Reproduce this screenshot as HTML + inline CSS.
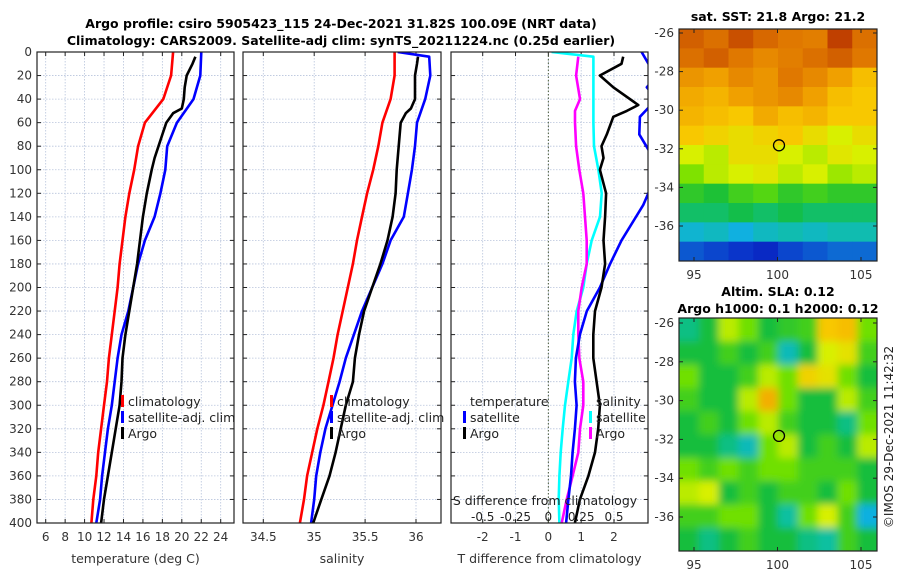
<!DOCTYPE html>
<html><head><meta charset="utf-8"><style>
html,body{margin:0;padding:0;background:#fff;}
svg{display:block;font-family:"DejaVu Sans","Liberation Sans",sans-serif;}
</style></head><body>
<svg id="fig" width="900" height="580" viewBox="0 0 900 580" xmlns="http://www.w3.org/2000/svg">
<text x="341" y="28" font-size="12.5" font-weight="bold" text-anchor="middle" fill="#000">Argo profile: csiro 5905423_115 24-Dec-2021 31.82S 100.09E (NRT data)</text>
<text x="341" y="45" font-size="12.5" font-weight="bold" text-anchor="middle" fill="#000">Climatology: CARS2009. Satellite-adj clim: synTS_20211224.nc (0.25d earlier)</text>
<text x="778" y="21" font-size="12.5" font-weight="bold" text-anchor="middle">sat. SST: 21.8 Argo: 21.2</text>
<text x="778" y="296" font-size="12.5" font-weight="bold" text-anchor="middle">Altim. SLA: 0.12</text>
<text x="778" y="313" font-size="12.5" font-weight="bold" text-anchor="middle">Argo h1000: 0.1 h2000: 0.12</text>
<text x="0" y="0" font-size="12" fill="#222" text-anchor="middle" transform="translate(893,437) rotate(-90)">©IMOS 29-Dec-2021 11:42:32</text>
<g id="root"></g>
</svg>
<script>
// ---------- data ----------
const depthStd = [0,20,40,60,80,100,120,140,160,180,200,220,240,260,280,300,320,340,360,380,400];
const tempClim = [19.1,18.9,18.1,16.2,15.5,15.1,14.6,14.2,13.9,13.6,13.4,13.1,12.8,12.5,12.3,12.0,11.7,11.4,11.2,10.9,10.7];
const tempSat  = [22.0,21.9,21.2,19.5,18.5,18.3,17.8,17.2,16.2,15.5,15.0,14.5,13.8,13.4,13.1,12.8,12.4,12.1,11.8,11.6,11.2];
const depthArgo = [4,10,20,30,40,48,52,60,70,80,90,100,120,140,160,180,200,220,240,260,280,300,320,340,360,380,400];
const tempArgo = [21.4,21.1,20.5,20.3,20.2,20.0,19.1,18.4,18.0,17.6,17.2,16.9,16.4,16.0,15.7,15.4,15.0,14.6,14.2,13.9,13.8,13.6,13.2,12.8,12.4,12.0,11.7];
const salClim = [35.79,35.79,35.75,35.67,35.63,35.58,35.52,35.47,35.42,35.38,35.33,35.28,35.23,35.19,35.14,35.09,35.03,34.98,34.93,34.90,34.86];
const depthSatS = [0,4,20,40,60,80,100,120,140,160,180,200,220,240,260,280,300,320,340,360,380,400];
const salSat = [35.82,36.13,36.14,36.09,36.01,35.99,35.96,35.92,35.88,35.75,35.67,35.57,35.47,35.39,35.31,35.25,35.18,35.11,35.06,35.02,35.00,34.97];
const salArgo = [36.02,36.01,35.99,35.99,35.99,35.95,35.90,35.85,35.84,35.83,35.82,35.81,35.80,35.77,35.72,35.65,35.57,35.49,35.44,35.40,35.38,35.31,35.26,35.21,35.15,35.07,34.99];
const depthTdSat = [0,10,20,30,40,55,70,90,110,130,160,180,200,220,240,260,280,300,320,340,360,380,400];
const tDiffSat = [2.84,3.05,3.3,3.0,3.3,2.79,2.77,3.2,3.2,2.89,2.23,1.88,1.57,1.17,0.96,0.84,0.81,0.86,0.81,0.74,0.69,0.61,0.54];
const depthTdArgo = [4,10,20,30,45,50,55,70,80,90,100,120,140,160,180,200,220,240,260,280,300,320,340,360,380,400];
const tDiffArgo = [2.28,2.23,1.57,1.98,2.74,2.39,1.98,1.78,1.62,1.68,1.57,1.76,1.73,1.68,1.73,1.62,1.42,1.37,1.37,1.47,1.57,1.52,1.42,1.22,0.96,0.81];
const sDiffSat = [0.025,0.343,0.343,0.343,0.343,0.348,0.381,0.406,0.393,0.330,0.292,0.266,0.216,0.190,0.178,0.152,0.127,0.109,0.094,0.084,0.079,0.084];
const depthSdArgo = [4,20,40,50,60,80,100,120,140,160,180,200,220,240,260,280,300,320,340,360,380,400];
const sDiffArgo = [0.228,0.211,0.241,0.203,0.203,0.211,0.236,0.266,0.279,0.292,0.292,0.254,0.228,0.228,0.236,0.266,0.266,0.241,0.228,0.185,0.140,0.102];
const depthTicks = [0,20,40,60,80,100,120,140,160,180,200,220,240,260,280,300,320,340,360,380,400];
const tempTicks = [6,8,10,12,14,16,18,20,22,24];
const salTicks = [34.5,35,35.5,36];
const tdTicks = [-2,-1,0,1,2];
const sdTicks = [-0.5,-0.25,0,0.25,0.5];
const sdTickLabels = ["-0.5","-0.25","0","0.25","0.5"];
const lonTicks = [95,100,105];
const latTicks = [-26,-28,-30,-32,-34,-36];
const argoLon = 100.09;
const argoLat = -31.82;
const sstGrid = [
[.88,.86,.9,.87,.85,.84,.92,.86],
[.86,.88,.85,.82,.84,.86,.88,.85],
[.8,.78,.82,.8,.85,.82,.78,.72],
[.76,.74,.78,.8,.82,.78,.72,.7],
[.74,.72,.7,.76,.72,.74,.7,.7],
[.7,.68,.66,.68,.7,.66,.62,.66],
[.62,.6,.66,.66,.62,.6,.64,.62],
[.56,.6,.62,.64,.6,.62,.58,.6],
[.48,.46,.5,.52,.48,.5,.48,.48],
[.42,.42,.44,.42,.44,.42,.42,.42],
[.32,.34,.3,.34,.36,.34,.36,.36],
[.2,.18,.16,.14,.18,.2,.22,.22]];
const slaGrid = [
[.4,.45,.6,.55,.45,.48,.5,.7,.72,.55],
[.45,.45,.5,.45,.5,.35,.45,.62,.65,.5],
[.55,.45,.45,.5,.6,.55,.68,.65,.55,.45],
[.5,.45,.45,.6,.75,.55,.45,.45,.6,.5],
[.45,.5,.45,.55,.6,.5,.45,.45,.4,.55],
[.45,.45,.4,.35,.55,.6,.45,.5,.45,.6],
[.55,.5,.55,.5,.55,.55,.5,.5,.5,.45],
[.6,.62,.45,.5,.45,.5,.5,.45,.55,.45],
[.5,.5,.55,.55,.45,.38,.55,.62,.5,.3],
[.45,.4,.45,.5,.45,.45,.4,.38,.5,.45]];

// ---------- helpers ----------
const NS="http://www.w3.org/2000/svg";
const root=document.getElementById('root');
function mk(tag,attrs,parent){const e=document.createElementNS(NS,tag);for(const k in attrs)e.setAttribute(k,attrs[k]);(parent||root).appendChild(e);return e;}
function lin(d0,d1,r0,r1){return v=>r0+(v-d0)*(r1-r0)/(d1-d0);}
const PT=52,PB=523;
const yD=lin(0,400,PT,PB);
let clipN=0;

function panel(name,x0,x1,xs,xticks,xlabels,xtitle,showY){
  const g=mk('g',{});
  
  
  depthTicks.forEach(d=>{const l=mk('line',{x1:x0,x2:x1,y1:yD(d),y2:yD(d),stroke:'#b8c4dc','stroke-width':0.8,'stroke-dasharray':'1.5,1.5'},g);
    });
  xticks.forEach((t,i)=>{const x=xs(t);
    const l=mk('line',{x1:x,x2:x,y1:PT,y2:PB,stroke:'#b8c4dc','stroke-width':0.8,'stroke-dasharray':'1.5,1.5'},g);
    
    mk('line',{x1:x,x2:x,y1:PB,y2:PB-4,stroke:'#222'},g);
    mk('line',{x1:x,x2:x,y1:PT,y2:PT+4,stroke:'#222'},g);
    const tx=mk('text',{x:x,y:PB+18,'font-size':12,'text-anchor':'middle',fill:'#333'},g);tx.textContent=xlabels[i];
    });
  depthTicks.forEach(d=>{mk('line',{x1:x0,x2:x0+4,y1:yD(d),y2:yD(d),stroke:'#222'},g);mk('line',{x1:x1,x2:x1-4,y1:yD(d),y2:yD(d),stroke:'#222'},g);
    if(showY){const tx=mk('text',{x:x0-5,y:yD(d)+4,'font-size':12,'text-anchor':'end',fill:'#333'},g);tx.textContent=d;
      }});
  const tt=mk('text',{x:(x0+x1)/2,y:PB+40,'font-size':12.5,'text-anchor':'middle',fill:'#333'},g);tt.textContent=xtitle;
  
  const id='clip'+(clipN++);
  const cp=mk('clipPath',{id:id},g);mk('rect',{x:x0,y:PT,width:x1-x0,height:PB-PT},cp);
  const sg=mk('g',{'clip-path':'url(#'+id+')'},g);
  mk('rect',{x:x0,y:PT,width:x1-x0,height:PB-PT,fill:'none',stroke:'#222','stroke-width':1.2},g);
  return sg;
}
function series(g,name,xs,depths,vals,color){
  const pts=vals.map((v,i)=>xs(v).toFixed(1)+','+yD(depths[i]).toFixed(1)).join(' ');
  const p=mk('polyline',{points:pts,fill:'none',stroke:color,'stroke-width':2.6,'stroke-linejoin':'round'},g);
  
  
}
function legend(x,y,color,label,name){
  const g=mk('g',{});
  
  
  if(color)mk('rect',{x:x,y:y-11,width:3,height:12,fill:color},g);
  const t=mk('text',{x:x+7,y:y,'font-size':12.5,fill:'#222'},g);t.textContent=label;
}

// ---------- panel 1 ----------
const xT=lin(6,24,45.7,220.7);
const g1=panel('temperature-panel',37,234,xT,tempTicks,tempTicks.map(String),'temperature (deg C)',true);
series(g1,'temp-climatology-line',xT,depthStd,tempClim,'#ff0000');
series(g1,'temp-satellite-line',xT,depthStd,tempSat,'#0000ff');
series(g1,'temp-argo-line',xT,depthArgo,tempArgo,'#000000');
legend(121,406,'#ff0000','climatology','legend-climatology');
legend(121,422,'#0000ff','satellite-adj. clim','legend-satellite-adj');
legend(121,438,'#000','Argo','legend-argo');

// ---------- panel 2 ----------
const xS=lin(34.5,36,263.3,416.0);
const g2=panel('salinity-panel',243,441,xS,salTicks,salTicks.map(String),'salinity',false);
series(g2,'sal-climatology-line',xS,depthStd,salClim,'#ff0000');
series(g2,'sal-satellite-line',xS,depthSatS,salSat,'#0000ff');
series(g2,'sal-argo-line',xS,depthArgo,salArgo,'#000000');
legend(330,406,'#ff0000','climatology','legend-sal-climatology');
legend(330,422,'#0000ff','satellite-adj. clim','legend-sal-satellite-adj');
legend(330,438,'#000','Argo','legend-sal-argo');

// ---------- panel 3 ----------
const xTd=lin(-2,2,482.7,614.0);
const xSd=v=>xTd(v*4);
const g3=panel('difference-panel',451,648,xTd,tdTicks,tdTicks.map(String),'T difference from climatology',false);
const zl=mk('line',{x1:xTd(0),x2:xTd(0),y1:PT,y2:PB,stroke:'#4a5a3a','stroke-width':1,'stroke-dasharray':'1.5,2'},g3);

series(g3,'sdiff-satellite-line',xSd,depthSatS,sDiffSat,'#00ffff');
series(g3,'sdiff-argo-line',xSd,depthSdArgo,sDiffArgo,'#ff00ff');
series(g3,'tdiff-satellite-line',xTd,depthTdSat,tDiffSat,'#0000ff');
series(g3,'tdiff-argo-line',xTd,depthTdArgo,tDiffArgo,'#000000');
const sat=mk('text',{x:545,y:505,'font-size':12.5,'text-anchor':'middle',fill:'#222'});sat.textContent='S difference from climatology';

sdTicks.forEach((t,i)=>{const tx=mk('text',{x:xSd(t),y:521,'font-size':12,'text-anchor':'middle',fill:'#222'});tx.textContent=sdTickLabels[i];
  });
legend(463,406,null,'temperature','legend-temperature-header');
legend(463,422,'#0000ff','satellite','legend-t-satellite');
legend(463,438,'#000','Argo','legend-t-argo');
legend(589,406,null,'salinity','legend-salinity-header');
legend(589,422,'#00ffff','satellite','legend-s-satellite');
legend(589,438,'#ff00ff','Argo','legend-s-argo');

// ---------- maps ----------
const stops=[[0,[0,0,140]],[0.15,[10,44,200]],[0.3,[16,176,224]],[0.38,[16,192,160]],[0.45,[20,190,60]],[0.55,[112,224,0]],[0.62,[216,240,0]],[0.7,[248,200,0]],[0.78,[240,160,0]],[0.85,[224,120,0]],[0.92,[192,64,0]],[1,[150,20,0]]];
function cmap(v){for(let i=1;i<stops.length;i++){if(v<=stops[i][0]){const a=stops[i-1],b=stops[i];const f=(v-a[0])/(b[0]-a[0]);
  const c=a[1].map((x,k)=>Math.round(x+(b[1][k]-x)*f));return 'rgb('+c.join(',')+')';}}return 'rgb(150,20,0)';}
function map(name,top,bot,grid,lat0,latPx0,latPx1,blur){
  const x0=679,x1=877;
  const g=mk('g',{});
  
  
  const id='mclip'+(clipN++);
  const cp=mk('clipPath',{id:id},g);mk('rect',{x:x0,y:top,width:x1-x0,height:bot-top},cp);
  const cg=mk('g',{'clip-path':'url(#'+id+')'},g);
  const ig=mk('g',blur?{filter:'url(#blur)'}:{},cg);
  const R=grid.length,C=grid[0].length,cw=(x1-x0)/C,ch=(bot-top)/R;
  grid.forEach((row,r)=>row.forEach((v,c)=>{const ex=blur?(c==0?-10:0):0,ey=blur?(r==0?-10:0):0;
    const rc=mk('rect',{x:x0+c*cw+ex,y:top+r*ch+ey,width:cw+0.5-ex+(blur&&c==C-1?10:0),height:ch+0.5-ey+(blur&&r==R-1?10:0),fill:cmap(v)},ig);
    }));
  const xL=lin(95,105,694,861);
  const yL=lin(-26,-36,latPx0,latPx1);
  mk('rect',{x:x0,y:top,width:x1-x0,height:bot-top,fill:'none',stroke:'#222','stroke-width':1.2},g);
  lonTicks.forEach(t=>{mk('line',{x1:xL(t),x2:xL(t),y1:bot,y2:bot-4,stroke:'#222'},g);mk('line',{x1:xL(t),x2:xL(t),y1:top,y2:top+4,stroke:'#222'},g);
    const tx=mk('text',{x:xL(t),y:bot+18,'font-size':12,'text-anchor':'middle',fill:'#333'},g);tx.textContent=t;
    });
  latTicks.forEach(t=>{mk('line',{x1:x0,x2:x0+4,y1:yL(t),y2:yL(t),stroke:'#222'},g);mk('line',{x1:x1,x2:x1-4,y1:yL(t),y2:yL(t),stroke:'#222'},g);
    const tx=mk('text',{x:x0-5,y:yL(t)+4,'font-size':12,'text-anchor':'end',fill:'#333'},g);tx.textContent=t;
    });
  const c=mk('circle',{cx:xL(argoLon),cy:yL(argoLat),r:5.5,fill:'none',stroke:'#000','stroke-width':1.3},g);
  
}
const defs=mk('defs',{});
const f=mk('filter',{id:'blur',x:'-10%',y:'-10%',width:'120%',height:'120%'},defs);
mk('feGaussianBlur',{stdDeviation:4},f);
map('sst-map',29,261,sstGrid,-26,33,226,false);
map('sla-map',318,551,slaGrid,-26,323,517,true);
</script>
</body></html>
